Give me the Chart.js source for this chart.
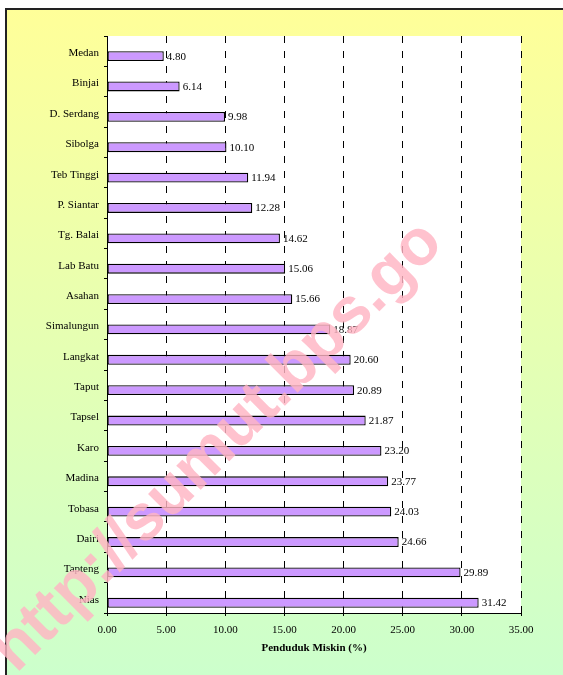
<!DOCTYPE html>
<html>
<head>
<meta charset="utf-8">
<script src="https://cdn.jsdelivr.net/npm/chart.js@4"></script>
<style>
html,body{margin:0;padding:0;background:#fff;}
canvas{display:block;}
</style>
</head>
<body>
<canvas id="c" width="563" height="675"></canvas>
<script>
const categories = ["Medan","Binjai","D. Serdang","Sibolga","Teb Tinggi","P. Siantar","Tg. Balai","Lab Batu","Asahan","Simalungun","Langkat","Taput","Tapsel","Karo","Madina","Tobasa","Dairi","Tapteng","Nias"];
const poorPct = [4.80,6.14,9.98,10.10,11.94,12.28,14.62,15.06,15.66,18.87,20.60,20.89,21.87,23.20,23.77,24.03,24.66,29.89,31.42];
const emptySeries = categories.map(() => null);
const xTickMin = 0, xTickMax = 35, xTickStep = 5;
const xTitle = "Penduduk Miskin (%)";
const watermark = "http://sumut.bps.go";

Chart.defaults.font.family = "'Liberation Serif', 'Times New Roman', serif";
Chart.defaults.font.size = 11;
Chart.defaults.color = "#000";

const bgPlugin = {
  id: 'bg',
  beforeDraw(chart) {
    const ctx = chart.ctx;
    const W = chart.width, H = chart.height;
    ctx.save();
    ctx.fillStyle = '#fff';
    ctx.fillRect(0, 0, W, H);
    const g = ctx.createLinearGradient(0, 9, 0, H);
    g.addColorStop(0, '#FFFF99');
    g.addColorStop(1, '#CCFFCC');
    ctx.fillStyle = g;
    ctx.fillRect(5, 8, W, H);
    ctx.fillStyle = '#222';
    ctx.fillRect(5, 8, W, 2);
    ctx.fillRect(5, 8, 2, H);
    const a = chart.chartArea;
    ctx.fillStyle = '#fff';
    ctx.fillRect(a.left, a.top, a.right - a.left, a.bottom - a.top);
    ctx.restore();
  },
  afterDatasetsDraw(chart) {
    const ctx = chart.ctx;
    const meta = chart.getDatasetMeta(1);
    ctx.save();
    ctx.font = "11px 'Liberation Serif'";
    ctx.fillStyle = '#000';
    ctx.textAlign = 'left';
    ctx.textBaseline = 'middle';
    meta.data.forEach((bar, i) => {
      const v = chart.data.datasets[1].data[i];
      ctx.fillText(v.toFixed(2), bar.x + 3, bar.y + 0.5);
    });
    ctx.restore();
  },
  afterDraw(chart) {
    const ctx = chart.ctx;
    ctx.save();
    ctx.translate(218, 447);
    ctx.rotate(-45 * Math.PI / 180);
    ctx.font = "bold 65px 'Liberation Sans', Arial, sans-serif";
    ctx.textAlign = 'center';
    ctx.textBaseline = 'middle';
    ctx.fillStyle = 'rgba(255,180,195,0.82)';
    ctx.fillText(watermark, 0, 0);
    ctx.restore();
  }
};

new Chart(document.getElementById('c'), {
  type: 'bar',
  data: {
    labels: categories,
    datasets: [
      { data: emptySeries, backgroundColor: '#CC99FF', borderColor: '#000', borderWidth: 1 },
      { data: poorPct, backgroundColor: '#CC99FF', borderColor: '#000', borderWidth: 1.3, borderSkipped: false }
    ]
  },
  options: {
    indexAxis: 'y',
    responsive: false,
    devicePixelRatio: 1,
    animation: false,
    categoryPercentage: 0.65,
    barPercentage: 1.0,
    layout: { padding: { left: 0, top: 36, right: 42, bottom: 0 } },
    plugins: { legend: { display: false }, tooltip: { enabled: false } },
    scales: {
      x: {
        type: 'linear',
        min: xTickMin, max: xTickMax,
        ticks: { stepSize: xTickStep, padding: 8, callback: v => v.toFixed(2), font: { size: 11 }, color: '#000' },
        grid: { color: '#000', lineWidth: 1, tickLength: 3, drawTicks: true },
        border: { display: true, color: '#000', width: 1, dash: [7, 8] },
        title: { display: true, text: xTitle, font: { size: 11, weight: 'bold' }, color: '#000', padding: { top: 0, bottom: 20 } },
        afterFit(scale) { scale.height = 62; }
      },
      y: {
        type: 'category',
        ticks: { padding: 5, labelOffset: 2, font: { size: 11 }, color: '#000', autoSkip: false },
        grid: { drawOnChartArea: false, drawTicks: true, tickLength: 3, color: '#000', offset: true },
        border: { display: true, color: '#000', width: 1 },
        afterFit(scale) { scale.width = 107; }
      }
    }
  },
  plugins: [bgPlugin]
});
</script>
</body>
</html>
